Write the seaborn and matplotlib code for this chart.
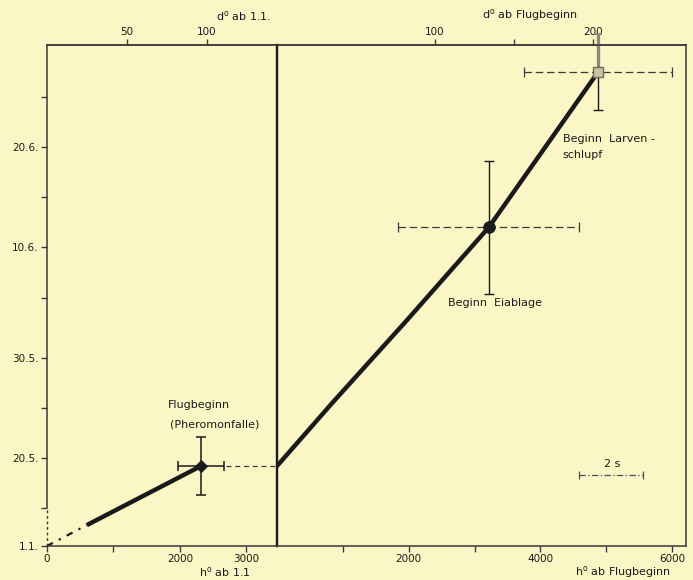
import numpy as np
import matplotlib
matplotlib.use("Agg")
import matplotlib.pyplot as plt
import seaborn as sns

# y = Tag des Jahres (1.1. = 1), x = Gradstunden h°
date_ticks = [1, 140, 150, 161, 171]
date_labels = ["1.1.", "20.5.", "30.5.", "10.6.", "20.6."]
date_minor = [135, 145, 156, 166, 176]

# Teil 1: ab 1.1.
lead_h = [0, 600]
lead_day = [1, 75]
flight_h = [600, 2316]
flight_day = [75, 139.2]
flug_h, flug_day = 2316, 139.2
flug_herr, flug_derr = 340, 2.9
link_h = [2700, 3460]

# Teil 2: ab Flugbeginn
dev_h = [0, 840, 1980, 3214, 3600, 4200, 4874]
dev_day = [139.2, 145.5, 153.8, 163.0, 166.6, 172.2, 178.5]
egg_h, egg_day = 3214, 163.0
egg_herr, egg_derr = 1370, 6.6
larv_h, larv_day = 4874, 178.5
larv_herr, larv_derr = 1120, 3.8
scale_h, scale_day = 5072, 138.3
scale_half = 488

BG = "#fbf6c6"
INK = "#1a1a1a"
AX = "#3a3a3a"

# gebrochene y-Achse: unterhalb 15.5. gestaucht
BRK, K = 135, 0.0282
def fwd(d):
    d = np.asarray(d, float)
    return np.where(d >= BRK, d, BRK - (BRK - d) * K)
def inv(t):
    t = np.asarray(t, float)
    return np.where(t >= BRK, t, BRK - (BRK - t) / K)

sns.set_theme(style="ticks")
plt.rcParams["font.family"] = ["DejaVu Sans"]
plt.rcParams["axes.linewidth"] = 1.1
plt.rcParams["axes.edgecolor"] = AX
plt.rcParams["xtick.color"] = AX
plt.rcParams["ytick.color"] = AX
plt.rcParams["xtick.labelcolor"] = INK
plt.rcParams["ytick.labelcolor"] = INK

fig = plt.figure(figsize=(6.93, 5.80), dpi=100)
fig.patch.set_facecolor(BG)
axL = fig.add_axes([0.0678, 0.0586, 0.3319, 0.8638])
axR = fig.add_axes([0.3997, 0.0586, 0.5902, 0.8638])

for ax in (axL, axR):
    ax.set_facecolor(BG)
    ax.set_yscale("function", functions=(fwd, inv))
    ax.set_ylim(1, 181.2)
    ax.tick_params(which="both", direction="out", length=4, width=1, labelsize=7.5, pad=2)

axL.set_xlim(0, 3460)
axR.set_xlim(0, 6210)

# y-Achse
axL.set_yticks(date_ticks, date_labels)
axL.set_yticks(date_minor, minor=True)
axL.spines["left"].set_bounds(BRK, 181.2)
axL.plot([0, 0], [1, BRK], ls=(0, (2, 2)), color=AX, lw=1, clip_on=False)
axR.tick_params(axis="y", which="both", left=False, labelleft=False)
axL.spines["right"].set_visible(False)
axR.spines["left"].set_color(INK)
axR.spines["left"].set_linewidth(1.7)
axR.plot([0, 0], [0.5, 1], color=INK, lw=1.7, clip_on=False)

# x-Achsen unten
axL.set_xticks([0, 1000, 2000, 3000], ["0", "", "2000", "3000"])
axR.set_xticks([1000, 2000, 3000, 4000, 5000, 6000], ["", "2000", "", "4000", "", "6000"])
axL.set_xlabel("")
axR.set_xlabel("")

# x-Achsen oben (Gradtage)
secL = axL.secondary_xaxis("top", functions=(lambda h: h / 24, lambda d: d * 24))
secL.set_xticks([50, 100], ["50", "100"])
secR = axR.secondary_xaxis("top", functions=(lambda h: h / 24, lambda d: d * 24))
secR.set_xticks([100, 150, 200], ["100", "", "200"])
for s in (secL, secR):
    s.tick_params(direction="out", length=4, width=1, labelsize=7.5, pad=2)
    s.spines["top"].set_color(AX)

# Teil 1
sns.lineplot(x=lead_h, y=lead_day, ax=axL, sort=False, estimator=None,
             color=INK, lw=1.6, ls=(0, (3, 3, 1, 3)))
sns.lineplot(x=flight_h, y=flight_day, ax=axL, sort=False, estimator=None,
             color=INK, lw=3.2, solid_capstyle="butt")
axL.errorbar(flug_h, flug_day, xerr=flug_herr, yerr=flug_derr, fmt="none",
             ecolor=INK, elinewidth=1.1, capsize=3.5, capthick=1.1)
sns.scatterplot(x=[flug_h], y=[flug_day], ax=axL, marker="D", s=40,
                color=INK, edgecolor=INK, zorder=5)
sns.lineplot(x=link_h, y=[flug_day, flug_day], ax=axL, sort=False, estimator=None,
             color=AX, lw=0.9, ls=(0, (4, 3)))
axL.text(2286, 145.3, "Flugbeginn", ha="center", va="center", fontsize=8, color=INK)
axL.text(2526, 143.3, "(Pheromonfalle)", ha="center", va="center", fontsize=8, color=INK)

# Teil 2
sns.lineplot(x=dev_h, y=dev_day, ax=axR, sort=False, estimator=None,
             color=INK, lw=3.2, solid_joinstyle="round")
eb = axR.errorbar(egg_h, egg_day, xerr=egg_herr, fmt="none", ecolor=AX,
                  elinewidth=0.9, capsize=3.5, capthick=0.9)
eb.lines[2][0].set_linestyle((0, (6, 3)))
axR.errorbar(egg_h, egg_day, yerr=egg_derr, fmt="none", ecolor=INK,
             elinewidth=1, capsize=3.5, capthick=1)
sns.scatterplot(x=[egg_h], y=[egg_day], ax=axR, marker="o", s=70,
                color=INK, edgecolor=INK, zorder=5)

eb = axR.errorbar(larv_h, larv_day, xerr=larv_herr, fmt="none", ecolor=AX,
                  elinewidth=0.9, capsize=3.5, capthick=0.9)
eb.lines[2][0].set_linestyle((0, (6, 3)))
axR.errorbar(larv_h, larv_day, yerr=[[larv_derr], [0]], fmt="none", ecolor=INK,
             elinewidth=1, capsize=3.5, capthick=1)
ebu = axR.errorbar(larv_h, larv_day, yerr=[[0], [larv_derr]], fmt="none", ecolor="#8c8a78",
                   elinewidth=2.4, capsize=3, capthick=1.5)
for art in ebu.lines[2]:
    art.set_clip_on(False)
for art in ebu.lines[1]:
    art.set_clip_on(False)
sns.scatterplot(x=[larv_h], y=[larv_day], ax=axR, marker="s", s=45,
                color="#c9c4a0", edgecolor="#6f6c5c", linewidth=1, zorder=5)

axR.text(3305, 155.5, "Beginn  Eiablage", ha="center", va="center", fontsize=8, color=INK)
axR.text(4341, 171.0, "Beginn  Larven -\nschlupf", ha="left", va="center",
         fontsize=8, color=INK, linespacing=1.7)

# Massstab 2 s
sb = axR.errorbar(scale_h, scale_day, xerr=scale_half, fmt="none", ecolor="#4a4a6a",
                  elinewidth=0.9, capsize=3, capthick=0.9)
sb.lines[2][0].set_linestyle((0, (5, 2, 1, 2)))
axR.text(scale_h + 10, 139.4, "2 s", ha="center", va="center", fontsize=8, color=INK)

# Achsentitel
fig.text(0.352, 0.972, r"d$^{\rm o}$ ab 1.1.", ha="center", va="center", fontsize=8, color=INK)
fig.text(0.765, 0.974, r"d$^{\rm o}$ ab Flugbeginn", ha="center", va="center", fontsize=8, color=INK)
fig.text(0.325, 0.013, r"h$^{\rm o}$ ab 1.1", ha="center", va="center", fontsize=8, color=INK)
fig.text(0.899, 0.013, r"h$^{\rm o}$ ab Flugbeginn", ha="center", va="center", fontsize=8, color=INK)

fig.savefig("out.png", dpi=100, facecolor=BG)
